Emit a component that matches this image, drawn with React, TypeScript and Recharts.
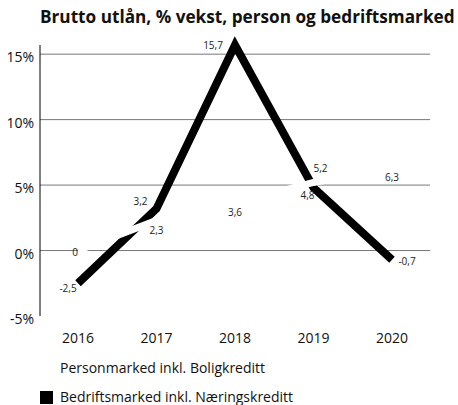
import { CartesianGrid, LabelList, Line, LineChart, XAxis, YAxis } from 'recharts'

const years = ['2016', '2017', '2018', '2019', '2020']
const personmarked = [0, 2.3, 3.6, 5.2, 6.3]
const bedriftsmarked = [-2.5, 3.2, 15.7, 4.8, -0.7]
const yTicks = [-5, 0, 5, 10, 15]
const gridValues = [0, 5, 10, 15]

const series = [
  { key: 'person', name: 'Personmarked inkl. Boligkreditt', color: '#ffffff' },
  { key: 'bedrift', name: 'Bedriftsmarked inkl. Næringskreditt', color: '#000000' },
]

const data = years.map((year, i) => ({ year, person: personmarked[i], bedrift: bedriftsmarked[i] }))

// label nudges per point, picked to match the original layout
const personOffsets = [[-3, 1], [0, 10], [0, 9], [7, -14], [0, 9]]
const bedriftOffsets = [[-10, 5], [-16, -8], [-22, 0], [-6, 7], [15, 1]]

const font = '"Open Sans", sans-serif'

function valueLabel(offsets: number[][]) {
  return (props: any) => {
    const { x, y, value, index } = props
    const [dx, dy] = offsets[index] ?? [0, 0]
    return (
      <text x={x + dx} y={y + dy} textAnchor="middle" dominantBaseline="central" fontSize={10} fontFamily={font} fill="#222">
        {String(value).replace('.', ',')}
      </text>
    )
  }
}

export default function App() {
  return (
    <div style={{ position: 'absolute', left: 0, top: 0, width: 458, height: 405, background: '#fff', fontFamily: font }}>
      <div style={{ position: 'absolute', left: 40, top: 5, fontSize: 17.2, fontWeight: 700, color: '#111', whiteSpace: 'nowrap' }}>
        Brutto utlån, % vekst, person og bedriftsmarked
      </div>
      <div style={{ position: 'absolute', left: 0, top: 0 }}>
        <LineChart width={458} height={350} data={data} margin={{ top: 45, right: 28, left: 0, bottom: 0 }}>
          <CartesianGrid vertical={false} stroke="#777" horizontalValues={gridValues} />
          <XAxis
            dataKey="year"
            axisLine={false}
            tickLine={false}
            tickSize={0}
            tickMargin={17}
            height={34}
            padding={{ left: 38, right: 38 }}
            tick={{ fontSize: 14, fill: '#111', fontFamily: font }}
          />
          <YAxis
            domain={[-5, 15]}
            ticks={yTicks}
            width={40}
            tickLine={false}
            tickSize={0}
            tickMargin={6}
            axisLine={{ stroke: '#000' }}
            tickFormatter={(v) => `${v}%`}
            tick={{ fontSize: 14, fill: '#111', fontFamily: font, dy: 3 }}
          />
          <Line dataKey="bedrift" stroke="#000" strokeWidth={8} dot={false} isAnimationActive={false} strokeLinecap="butt" strokeLinejoin="miter">
            <LabelList dataKey="bedrift" content={valueLabel(bedriftOffsets)} />
          </Line>
          <Line dataKey="person" stroke="#fff" strokeWidth={7} dot={false} isAnimationActive={false} strokeLinecap="butt">
            <LabelList dataKey="person" content={valueLabel(personOffsets)} />
          </Line>
        </LineChart>
      </div>
      <div style={{ position: 'absolute', left: 40, top: 360, fontSize: 14, color: '#111' }}>
        {series.map((s, i) => (
          <div key={s.key} style={{ display: 'flex', alignItems: 'center', height: 16, lineHeight: '16px', marginTop: i ? 13 : 0 }}>
            <span style={{ width: 13, height: 13, background: s.color, marginRight: 7, display: 'inline-block' }} />
            {s.name}
          </div>
        ))}
      </div>
    </div>
  )
}
